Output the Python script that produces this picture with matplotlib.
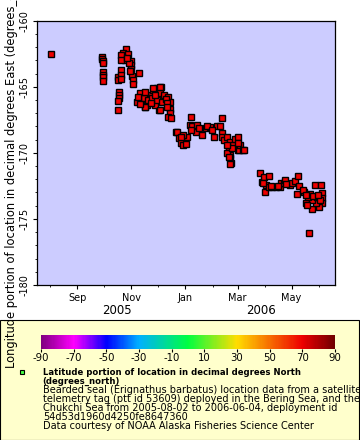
import numpy as np
import pandas as pd
import matplotlib
matplotlib.use("Agg")
import matplotlib.pyplot as plt
import matplotlib.dates as mdates
from matplotlib.colors import LinearSegmentedColormap, Normalize
from matplotlib.cm import ScalarMappable
from matplotlib.patches import Rectangle

plt.rcParams['font.family'] = 'DejaVu Sans'
plt.rcParams['axes.unicode_minus'] = False

#DATA: seal track, time vs longitude
dates = [
    "2005-08-03",
    # end of September
    "2005-09-29", "2005-09-29", "2005-09-30", "2005-09-30", "2005-09-30",
    "2005-09-30", "2005-09-30", "2005-09-30",
    # mid October
    "2005-10-17", "2005-10-17", "2005-10-18", "2005-10-18", "2005-10-18",
    "2005-10-17", "2005-10-17", "2005-10-21", "2005-10-20", "2005-10-20",
    # late October
    "2005-10-26", "2005-10-23", "2005-10-28", "2005-10-22", "2005-10-25",
    "2005-10-20", "2005-10-21", "2005-11-01", "2005-11-01", "2005-11-01",
    "2005-11-02", "2005-11-03", "2005-11-03", "2005-11-10", "2005-10-31",
    "2005-10-30", "2005-10-27",
    # November - December
    "2005-11-11", "2005-11-08", "2005-11-15", "2005-11-19", "2005-11-23",
    "2005-11-26", "2005-11-30", "2005-12-05", "2005-12-04", "2005-12-08",
    "2005-12-13", "2005-12-15", "2005-12-15", "2005-12-15", "2005-12-12",
    "2005-12-16", "2005-12-02", "2005-11-28", "2005-11-17", "2005-11-26",
    "2005-12-04", "2005-12-03", "2005-11-16", "2005-11-20", "2005-11-25",
    "2005-11-30", "2005-12-06", "2005-12-10", "2005-11-23", "2005-11-11",
    "2005-11-09", "2005-11-28", "2005-11-17", "2005-12-11", "2005-12-11",
    # late December - early February
    "2005-12-22", "2005-12-23", "2005-12-25", "2005-12-27", "2005-12-30",
    "2006-01-02", "2006-01-03", "2006-01-06", "2006-01-09", "2006-01-14",
    "2006-01-13", "2006-01-20", "2006-01-24", "2006-01-29", "2006-02-02",
    "2006-02-06", "2006-02-09", "2006-01-07", "2006-02-11", "2005-12-30",
    "2006-01-07", "2006-01-16", "2006-01-26", "2006-01-31", "2005-12-27",
    # February - March
    "2006-02-12", "2006-02-12", "2006-02-14", "2006-02-17", "2006-02-19",
    "2006-02-20", "2006-02-20", "2006-02-22", "2006-02-17", "2006-02-19",
    "2006-02-21", "2006-02-21", "2006-02-24", "2006-02-26", "2006-03-01",
    "2006-03-02", "2006-03-03", "2006-03-04", "2006-03-07", "2006-03-08",
    "2006-02-23", "2006-03-01", "2006-02-17",
    # late March - early May
    "2006-03-26", "2006-03-29", "2006-03-31", "2006-04-01", "2006-04-02",
    "2006-04-05", "2006-04-05", "2006-04-09", "2006-04-13", "2006-04-18",
    "2006-04-19", "2006-04-22", "2006-04-24", "2006-04-29", "2006-05-02",
    "2006-05-05", "2006-05-08", "2006-05-09", "2006-05-07", "2006-03-30",
    "2006-04-08", "2006-04-16", "2006-04-25",
    # late May - June
    "2006-05-15", "2006-05-17", "2006-05-22", "2006-05-24", "2006-05-27",
    "2006-06-03", "2006-06-04", "2006-06-04", "2006-06-04", "2006-06-01",
    "2006-05-28", "2006-05-24", "2006-05-20", "2006-05-21", "2006-05-18",
    "2006-05-30", "2006-06-02", "2006-05-14", "2006-05-17", "2006-05-25",
    "2006-05-31",
]
lons = [
    -162.54,
    -162.72, -162.90, -163.05, -163.22, -163.88,
    -164.09, -164.26, -164.54,
    -164.26, -164.49, -165.37, -165.62, -165.87,
    -166.08, -166.76, -163.73, -164.11, -164.43,
    -162.14, -162.47, -162.52, -162.72, -162.97,
    -162.60, -162.97, -163.03, -163.35, -163.66,
    -164.16, -164.49, -164.79, -163.93, -163.81,
    -163.20, -162.82,
    -165.49, -166.13, -165.87, -166.38, -165.62,
    -165.24, -165.12, -164.99, -165.49, -165.62,
    -165.80, -166.13, -166.68, -167.01, -167.31,
    -167.34, -166.76, -166.38, -166.51, -165.12,
    -165.04, -166.76, -166.51, -166.00, -165.85,
    -166.00, -166.15, -165.92, -166.23, -166.30,
    -165.77, -165.62, -165.40, -166.23, -166.53,
    -168.44, -168.42, -168.90, -169.28, -169.41,
    -169.33, -168.82, -167.89, -167.95, -167.89,
    -168.40, -168.65, -168.14, -168.07, -168.82,
    -167.97, -167.95, -167.26, -167.34, -168.65,
    -168.27, -168.14, -167.97, -168.27, -168.80,
    -168.52, -168.80, -169.03, -168.78, -169.53,
    -170.16, -170.41, -170.79, -170.03, -170.29,
    -170.84, -169.16, -169.41, -168.95, -168.78,
    -169.78, -169.78, -169.41, -169.78, -169.78,
    -169.63, -169.25, -169.41,
    -171.50, -172.18, -171.80, -172.94, -172.43,
    -171.73, -172.56, -172.61, -172.56, -172.61,
    -172.30, -172.30, -172.05, -172.43, -172.26,
    -172.11, -171.73, -172.49, -173.09, -172.28,
    -172.51, -172.51, -172.36,
    -172.94, -173.77, -173.11, -174.27, -172.43,
    -172.43, -173.06, -173.44, -173.82, -174.07,
    -173.82, -173.57, -173.32, -176.04, -173.95,
    -173.32, -173.57, -172.82, -173.19, -173.27,
    -173.19,
]
cbar_ticks = [-90, -70, -50, -30, -10, 10, 30, 50, 70, 90]
yticks = [-160, -165, -170, -175, -180]
legend_title = ["Latitude portion of location in decimal degrees North",
                "(degrees_north)"]
legend_lines = ["Bearded seal (Erignathus barbatus) location data from a satellite",
                "telemetry tag (ptt id 53609) deployed in the Bering Sea, and the",
                "Chukchi Sea from 2005-08-02 to 2006-06-04, deployment id",
                "54d53d1960d4250fe8647360",
                "Data courtesy of NOAA Alaska Fisheries Science Center"]

t = pd.to_datetime(dates)

#rainbow colour scale used by the legend bar
cmap = LinearSegmentedColormap.from_list("rb", [
    (0.0, "#800080"), (0.111, "#ff00ff"), (0.222, "#0000ff"),
    (0.333, "#00b0ff"), (0.5, "#00ff40"), (0.667, "#ffdd00"),
    (0.889, "#ee0000"), (1.0, "#700000")])

fig = plt.figure(figsize=(3.6, 4.4), dpi=100)
fig.patch.set_facecolor("white")

#yellow legend panel (behind everything else)
fig.patches.append(Rectangle((0.0, 0.0), 359 / 360, 120 / 440, transform=fig.transFigure,
                             facecolor="#ffffcc", edgecolor="black", linewidth=0.8, zorder=-5))

ax = fig.add_axes([0.1036, 0.3523, 0.827, 0.6007])
ax.set_facecolor("#ccccff")
ax.plot(t, lons, linestyle="none", marker="s", ms=4.0, mfc="#ee0000", mec="black", mew=1.0)

ax.set_xlim(pd.Timestamp("2005-07-18"), pd.Timestamp("2006-06-19"))
ax.set_ylim(-180, -160)
ax.set_yticks(yticks)
ax.set_yticklabels([str(v) for v in yticks], rotation=90, va="center")
ax.yaxis.set_minor_locator(plt.MultipleLocator(1))
ax.xaxis.set_major_locator(mdates.MonthLocator(bymonth=[1, 3, 5, 7, 9, 11]))
ax.xaxis.set_major_formatter(mdates.DateFormatter("%b"))
ax.xaxis.set_minor_locator(mdates.MonthLocator())
ax.tick_params(which="major", direction="out", length=3, width=0.8, labelsize=7, pad=2.5)
ax.tick_params(which="minor", direction="out", length=1.5, width=0.6)
for s in ax.spines.values():
    s.set_linewidth(0.9)

#year labels under the months
ax.text(pd.Timestamp("2005-10-16"), -0.097, "2005", transform=ax.get_xaxis_transform(),
        ha="center", va="center", fontsize=8.5)
ax.text(pd.Timestamp("2006-03-27"), -0.097, "2006", transform=ax.get_xaxis_transform(),
        ha="center", va="center", fontsize=8.5)

fig.text(12 / 360, (440 - 368) / 440,
         "Longitude portion of location in decimal degrees East (degrees_east)",
         rotation=90, ha="center", va="bottom", fontsize=8.3, zorder=5)

#colour bar
cax = fig.add_axes([41 / 360, 91 / 440, 294 / 360, 14 / 440])
cb = fig.colorbar(ScalarMappable(norm=Normalize(-90, 90), cmap=cmap), cax=cax,
                  orientation="horizontal")
cb.outline.set_visible(False)
cb.set_ticks(cbar_ticks)
cb.set_ticklabels([str(v) for v in cbar_ticks])
cax.tick_params(length=2, width=0.8, labelsize=7.3, pad=1.2)

#legend marker and text
fig.add_artist(plt.Line2D([22 / 360], [(440 - 372) / 440], transform=fig.transFigure,
                          marker="s", ms=3.5, mfc="#44ff44", mec="black", mew=0.8))
y0 = 440 - 372
for i, line in enumerate(legend_title):
    fig.text(42.7 / 360, (y0 - 9 * i) / 440, line, fontsize=6.1, fontweight="bold",
             ha="left", va="center")
for i, line in enumerate(legend_lines):
    fig.text(42.7 / 360, (y0 - 18 - 9 * i) / 440, line, fontsize=7.0,
             ha="left", va="center")

fig.savefig("out.png", dpi=100)
